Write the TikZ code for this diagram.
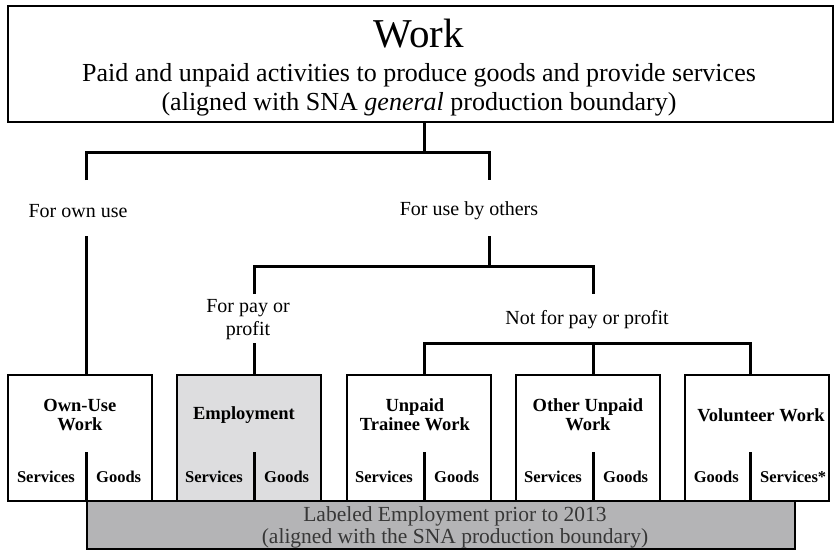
\documentclass[tikz,border=0pt]{standalone}
\usepackage{fontspec}
\setmainfont{Liberation Serif}
\usetikzlibrary{positioning}
\definecolor{empfill}{RGB}{221,221,223}
\definecolor{priorfill}{RGB}{180,180,182}
\definecolor{priortext}{RGB}{55,55,55}
\tikzset{
	catbox/.style={draw, line width=1.8pt, anchor=north west, inner sep=0pt, minimum width=144pt, minimum height=126pt},
	catlabel/.style={font=\fontsize{18.5}{19}\selectfont\bfseries, align=center, inner sep=0pt},
	sublabel/.style={font=\fontsize{16.5}{18}\selectfont\bfseries, inner sep=0pt},
	branch/.style={font=\fontsize{20}{23}\selectfont, align=center, inner sep=0pt},
	link/.style={line width=3pt, line join=miter},
	split/.style={line width=3pt},
}
\begin{document}
\begin{tikzpicture}[x=1pt, y=-1pt]
	\useasboundingbox (0,0) rectangle (835,551);
	
	% top box
	\node[draw, line width=2pt, anchor=north west, inner sep=0pt, minimum width=825pt, minimum height=116pt] (work) at (7,5) {};
	\node[font=\fontsize{41}{44}\selectfont, inner sep=0pt, anchor=base] (title) at (419,48) {Work};
	\node[font=\fontsize{26}{29}\selectfont, align=center, inner sep=0pt] (desc) at (419,90) {Paid and unpaid activities to produce goods and provide services\\(aligned with SNA \textit{general} production boundary)};
	
	% branch labels
	\node[branch] (ownuse) at (78,211) {For own use};
	\node[branch] (others) at (469,211) {For use by others};
	\node[branch] (pay) at (248,320) {For pay or\\profit};
	\node[branch] (notpay) at (587,320) {Not for pay or profit};
	
	% columns
	\coordinate (d1) at (86,452);
	\coordinate (d2) at (254,452);
	\coordinate (d3) at (424,452);
	\coordinate (d4) at (593,452);
	\coordinate (d5) at (750,452);
	
	% bottom boxes
	\node[catbox] (own) at (7,374) {};
	\node[catbox, fill=empfill] (emp) at (176,374) {};
	\node[catbox] (trainee) at (346,374) {};
	\node[catbox] (other) at (515,374) {};
	\node[catbox] (volunteer) at (684,374) {};
	
	\node[catlabel] (ownlbl) at ([yshift=-41pt]own.north) {Own-Use\\Work};
	\node[catlabel] (emplbl) at ([xshift=-5pt, yshift=-41pt]emp.north) {Employment};
	\node[catlabel] (traineelbl) at ([xshift=-4pt, yshift=-41pt]trainee.north) {Unpaid\\Trainee Work};
	\node[catlabel] (otherlbl) at ([yshift=-41pt]other.north) {Other Unpaid\\Work};
	\node[catlabel] (volunteerlbl) at ([xshift=4pt, yshift=-41pt]volunteer.north) {Volunteer Work};
	
	% services / goods
	\node[sublabel, anchor=east] (own-s) at ([xshift=-11pt, yshift=-25pt]d1) {Services};
	\node[sublabel, anchor=west] (own-g) at ([xshift=10pt, yshift=-25pt]d1) {Goods};
	\node[sublabel, anchor=east] (emp-s) at ([xshift=-11pt, yshift=-25pt]d2) {Services};
	\node[sublabel, anchor=west] (emp-g) at ([xshift=10pt, yshift=-25pt]d2) {Goods};
	\node[sublabel, anchor=east] (trainee-s) at ([xshift=-11pt, yshift=-25pt]d3) {Services};
	\node[sublabel, anchor=west] (trainee-g) at ([xshift=10pt, yshift=-25pt]d3) {Goods};
	\node[sublabel, anchor=east] (other-s) at ([xshift=-11pt, yshift=-25pt]d4) {Services};
	\node[sublabel, anchor=west] (other-g) at ([xshift=10pt, yshift=-25pt]d4) {Goods};
	\node[sublabel, anchor=east] (volunteer-g) at ([xshift=-11pt, yshift=-25pt]d5) {Goods};
	\node[sublabel, anchor=west] (volunteer-s) at ([xshift=10pt, yshift=-25pt]d5) {Services*};
	
	\draw[split] (d1) -- (d1 |- own.south);
	\draw[split] (d2) -- (d2 |- emp.south);
	\draw[split] (d3) -- (d3 |- trainee.south);
	\draw[split] (d4) -- (d4 |- other.south);
	\draw[split] (d5) -- (d5 |- volunteer.south);
	
	% employment prior to 2013
	\node[draw, line width=2.2pt, fill=priorfill, anchor=north west, inner sep=0pt, minimum width=708pt, minimum height=48pt] (prior) at (86,500) {};
	\node[font=\fontsize{21.5}{22}\selectfont, text=priortext, align=center, inner sep=0pt] (priorlbl) at (455,527) {Labeled Employment prior to 2013\\(aligned with the SNA production boundary)};
	
	% tree
	\coordinate (j0) at (424,152);
	\coordinate (j1) at (489,266);
	\coordinate (j2) at (593,343);
	\coordinate (ownuse-top) at (86,180);
	\coordinate (ownuse-bot) at (86,236);
	\coordinate (others-top) at (489,180);
	\coordinate (others-bot) at (489,236);
	\coordinate (pay-top) at (254,294);
	\coordinate (pay-bot) at (254,343);
	\coordinate (notpay-top) at (593,294);
	
	\draw[link] (work.south -| j0) -- (j0);
	\draw[link] (ownuse-top) |- (j0) -| (others-top);
	\draw[link] (ownuse-bot) -- (ownuse-bot |- own.north);
	\draw[link] (others-bot) -- (j1);
	\draw[link] (pay-top) |- (j1) -| (notpay-top);
	\draw[link] (pay-bot) -- (pay-bot |- emp.north);
	\draw[link] (trainee.north -| d3) |- (j2) -| (volunteer.north -| d5);
	\draw[link] (j2) -- (other.north -| d4);
\end{tikzpicture}
\end{document}
